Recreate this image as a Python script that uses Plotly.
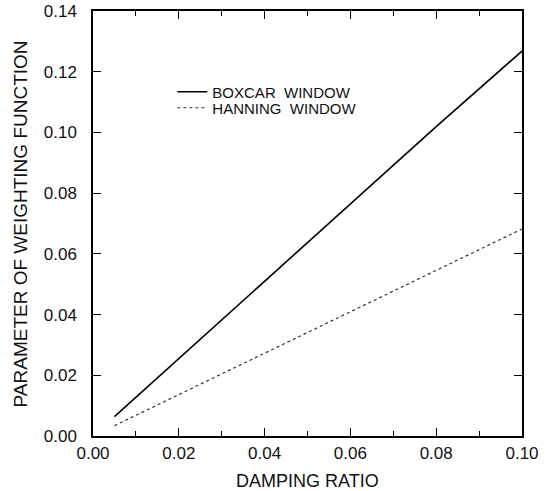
import plotly.graph_objects as go

damping_ratio = [0.005, 0.02, 0.04, 0.06, 0.08, 0.10]
boxcar_param = [0.0064, 0.0255, 0.0510, 0.0764, 0.1019, 0.1268]
hanning_param = [0.0034, 0.0136, 0.0272, 0.0408, 0.0544, 0.0682]

x_ticks = [0.00, 0.02, 0.04, 0.06, 0.08, 0.10]
y_ticks = [0.00, 0.02, 0.04, 0.06, 0.08, 0.10, 0.12, 0.14]

FONT = "Liberation Sans, Arial, Helvetica, sans-serif"

fig = go.Figure()
fig.add_trace(go.Scatter(x=damping_ratio, y=boxcar_param, mode="lines",
                         name="BOXCAR  WINDOW", legend="legend",
                         line=dict(color="black", width=1.6)))
fig.add_trace(go.Scatter(x=damping_ratio, y=hanning_param, mode="lines",
                         name="HANNING  WINDOW", legend="legend2",
                         line=dict(color="#333333", width=1.2, dash="dot")))

axis_common = dict(showgrid=False, zeroline=False, showline=True, linecolor="black",
                   linewidth=1.5, mirror="ticks", ticks="inside", tickcolor="black",
                   tickwidth=1.3, ticklen=8, automargin=False,
                   tickfont=dict(family=FONT, size=17, color="#111"))

fig.update_xaxes(range=[0, 0.10], tickvals=x_ticks,
                 ticktext=[f"{v:.2f}" for v in x_ticks],
                 minor=dict(dtick=0.01, ticks="inside", ticklen=5, tickcolor="black", tickwidth=1.2),
                 ticklabelstandoff=1,
                 **axis_common)
fig.update_yaxes(range=[0, 0.14], tickvals=y_ticks,
                 ticktext=[f"{v:.2f}" for v in y_ticks],
                 ticklabelstandoff=11,
                 **axis_common)

# axis titles as annotations for precise placement
fig.add_annotation(text="DAMPING RATIO", xref="paper", yref="paper",
                   x=0.5, y=-0.105, xanchor="center", yanchor="middle",
                   showarrow=False, font=dict(family=FONT, size=18, color="#111"))
fig.add_annotation(text="PARAMETER OF WEIGHTING FUNCTION", xref="paper", yref="paper",
                   x=-0.168, y=0.5, xanchor="center", yanchor="middle", textangle=-90,
                   showarrow=False, font=dict(family=FONT, size=19, color="#111"))

legend_common = dict(xanchor="left", yanchor="middle",
                     bgcolor="rgba(0,0,0,0)", borderwidth=0,
                     font=dict(family=FONT, size=15, color="#111"))
fig.update_layout(
    width=553, height=491,
    margin=dict(l=93, r=31, t=11, b=55),
    paper_bgcolor="white", plot_bgcolor="white",
    showlegend=True,
    legend=dict(x=0.185, y=0.8094, **legend_common),
    legend2=dict(x=0.185, y=0.7718, **legend_common),
)

fig.write_html("out.html")
